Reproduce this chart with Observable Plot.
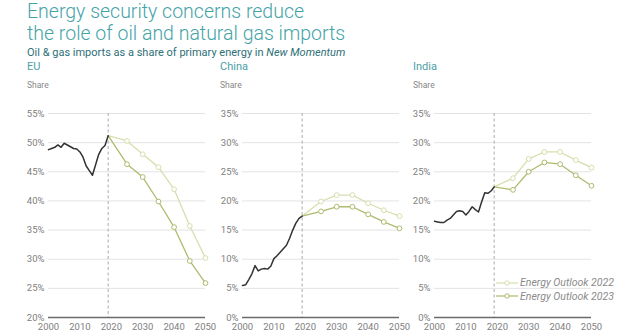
<!DOCTYPE html>
<html>
<head>
<meta charset="utf-8">
<script src="https://cdn.jsdelivr.net/npm/d3@7"></script>
<script src="https://cdn.jsdelivr.net/npm/@observablehq/plot@0.6"></script>
<style>
  body { margin: 0; background: #fff; font-family: Roboto, "Liberation Sans", sans-serif; }
  #wrap { position: relative; width: 640px; height: 331px; overflow: hidden; }
  .abs { position: absolute; white-space: nowrap; }
  .title { left: 27px; font-size: 19.5px; font-weight: 300; line-height: 22px; height: 22px; color: #45a3a8; }
  #subtitle { left: 27px; top: 46px; font-size: 11px; color: #2d6f76; }
  .pname { font-size: 11px; color: #4c9ea6; top: 60px; }
  .share { font-size: 8.5px; color: #888; top: 80px; }
  .panel { position: absolute; top: 100px; }
  .panel svg { overflow: visible; }
  .leg { font-size: 10.5px; font-style: italic; color: #8a8a8a; display: flex; align-items: center; }
</style>
</head>
<body>
<div id="wrap">
  <div class="abs title" style="top:1px">Energy security concerns reduce</div>
  <div class="abs title" style="top:23px">the role of oil and natural gas imports</div>
  <div id="subtitle" class="abs">Oil &amp; gas imports as a share of primary energy in <i>New Momentum</i></div>
  <div class="abs pname" style="left:27px">EU</div>
  <div class="abs pname" style="left:220px">China</div>
  <div class="abs pname" style="left:413px">India</div>
  <div class="abs share" style="left:27px">Share</div>
  <div class="abs share" style="left:220px">Share</div>
  <div class="abs share" style="left:413px">Share</div>
  <div id="p0" class="panel" style="left:0px"></div>
  <div id="p1" class="panel" style="left:194px"></div>
  <div id="p2" class="panel" style="left:386px"></div>
  <div id="legend" class="abs" style="left:496px; top:276px;"></div>
</div>
<script>
// ---- data ----
const histYears = [2000,2001,2002,2003,2004,2005,2006,2007,2008,2009,2010,2011,2012,2013,2014,2015,2016,2017,2018,2019];
const projYears = [2019,2025,2030,2035,2040,2045,2050];
const seriesNames = ["Energy Outlook 2022", "Energy Outlook 2023"];
const xTicks = [2000,2010,2020,2030,2040,2050];

const euHist = [48.8,49.0,49.2,49.6,49.2,49.9,49.6,49.3,49.0,48.9,48.4,47.5,46.0,45.2,44.4,46.2,48.0,49.0,49.5,51.2];
const euPrev = [51.2,50.3,48.0,45.8,42.0,35.7,30.2];
const euNew  = [51.2,46.3,44.1,39.9,35.5,29.7,25.9];
const euTicks = [20,25,30,35,40,45,50,55];

const cnHist = [5.5,5.6,6.5,7.5,8.9,8.0,8.3,8.4,8.3,8.8,10.1,10.6,11.2,11.8,12.4,13.6,15.0,16.2,17.0,17.4];
const cnPrev = [17.4,19.9,21.0,21.0,19.6,18.4,17.4];
const cnNew  = [17.4,18.2,19.0,19.0,17.7,16.4,15.3];

const inHist = [16.5,16.4,16.3,16.3,16.7,17.0,17.6,18.2,18.3,18.2,17.6,18.2,19.0,18.5,18.1,19.8,21.4,21.3,21.7,22.4];
const inPrev = [22.4,23.9,27.2,28.4,28.4,27.0,25.7];
const inNew  = [22.4,21.9,25.0,26.6,26.3,24.4,22.6];
const otherTicks = [0,5,10,15,20,25,30,35];

const colHist = "#333333";
const colPrev = "#d6dfae";
const colNew  = "#aebb6e";

function panel(el, hist, prev, neu, ticks) {
  const h = histYears.map((year, i) => ({year, v: hist[i]}));
  const p = projYears.map((year, i) => ({year, v: prev[i]}));
  const n = projYears.map((year, i) => ({year, v: neu[i]}));
  const chart = Plot.plot({
    width: 219, height: 231,
    marginLeft: 48, marginRight: 14, marginTop: 13, marginBottom: 14,
    style: {fontFamily: "Roboto, 'Liberation Sans', sans-serif", fontSize: "9.5px", color: "#808080", background: "transparent", overflow: "visible"},
    x: {domain: [2000, 2050], ticks: xTicks, tickFormat: d => String(d), tickSize: 0, tickPadding: 6, label: null},
    y: {domain: [ticks[0], ticks[ticks.length - 1]], ticks: ticks, tickFormat: d => d + "%", tickSize: 0, tickPadding: 4, label: null},
    marks: [
      Plot.gridY(ticks, {stroke: "#e3e3e3", strokeOpacity: 1}),
      Plot.ruleX([2019], {stroke: "#aaaaaa", strokeDasharray: "3,2.5"}),
      Plot.ruleY([ticks[0]], {stroke: "#6b6b6b", strokeWidth: 1.6}),
      Plot.line(p, {x: "year", y: "v", stroke: colPrev, strokeWidth: 1.3}),
      Plot.dot(p.slice(1), {x: "year", y: "v", r: 2.4, stroke: colPrev, fill: "white", strokeWidth: 1}),
      Plot.line(n, {x: "year", y: "v", stroke: colNew, strokeWidth: 1.3}),
      Plot.dot(n.slice(1), {x: "year", y: "v", r: 2.4, stroke: colNew, fill: "white", strokeWidth: 1}),
      Plot.line(h, {x: "year", y: "v", stroke: colHist, strokeWidth: 1.5})
    ]
  });
  document.getElementById(el).appendChild(chart);
}

panel("p0", euHist, euPrev, euNew, euTicks);
panel("p1", cnHist, cnPrev, cnNew, otherTicks);
panel("p2", inHist, inPrev, inNew, otherTicks);

// legend
const leg = document.getElementById("legend");
[[seriesNames[0], colPrev], [seriesNames[1], colNew]].forEach(([name, c]) => {
  const row = document.createElement("div");
  row.className = "leg";
  row.style.height = "13.5px";
  row.innerHTML = `<svg width="22" height="8" style="margin-right:2px"><line x1="0" y1="4" x2="22" y2="4" stroke="${c}" stroke-width="1.2"/><circle cx="11" cy="4" r="2.2" fill="white" stroke="${c}"/></svg>${name}`;
  leg.appendChild(row);
});
</script>
</body>
</html>
